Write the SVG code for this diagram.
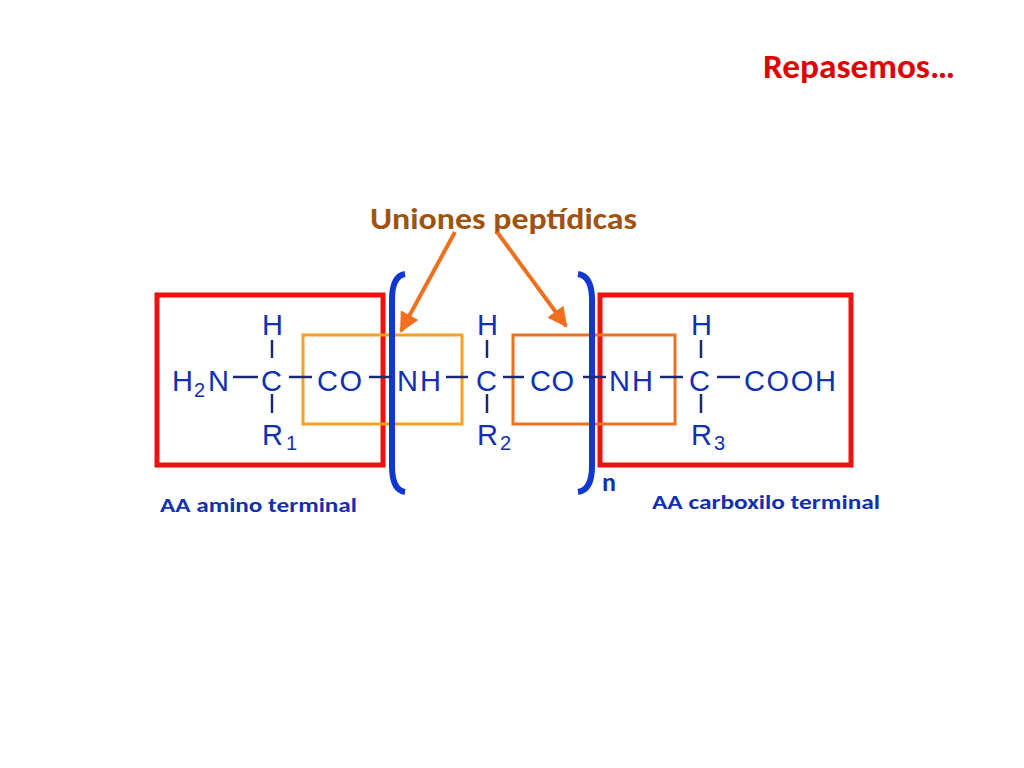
<svg xmlns="http://www.w3.org/2000/svg" width="1024" height="768" viewBox="0 0 1024 768">
<style>
.f{font-family:"Liberation Sans",Arial,sans-serif;fill:#1030B0}
.m{font-size:29px}
.s{font-size:20px}
.b{font-family:Carlito,"Open Sans","Liberation Sans",sans-serif;font-weight:bold}
.bond{stroke:#1a2a70;stroke-width:2.5}
</style>
<defs><marker id="a" viewBox="0 0 10 10" refX="9" refY="5" markerWidth="5" markerHeight="5" orient="auto"><path d="M0,0L10,5L0,10z" fill="#F07020"/></marker></defs>
<rect width="1024" height="768" fill="#fff"/>
<text x="763" y="78" class="b" font-size="34" fill="#E00000" textLength="192" lengthAdjust="spacingAndGlyphs">Repasemos…</text>
<text x="370" y="229" class="b" font-size="30" fill="#A0520E" textLength="267" lengthAdjust="spacingAndGlyphs">Uniones peptídicas</text>
<g id="boxes" fill="none">
<rect x="157" y="295" width="226" height="170" stroke="#EE1111" stroke-width="5"/>
<rect x="600" y="295" width="251" height="170" stroke="#EE1111" stroke-width="5"/>
<rect x="303" y="335" width="159" height="89" stroke="#F5A020" stroke-width="3"/>
<rect x="513" y="335" width="162" height="89" stroke="#F07020" stroke-width="3"/>
<path d="M405,274 Q392,276 392,300 L392,466 Q392,490 405,492" stroke="#1038D0" stroke-width="6"/>
<path d="M578,274 Q592,276 592,300 L592,466 Q592,490 578,492" stroke="#1038D0" stroke-width="6"/>
</g>
<g id="connectors" stroke="#F07020" stroke-width="4" fill="none">
<line x1="455" y1="232" x2="401" y2="331" marker-end="url(#a)"/>
<line x1="497" y1="232" x2="566" y2="326" marker-end="url(#a)"/>
</g>
<g id="bonds" class="bond">
<line x1="272" y1="340" x2="272" y2="358"/><line x1="272" y1="394" x2="272" y2="413"/>
<line x1="487" y1="340" x2="487" y2="358"/><line x1="487" y1="394" x2="487" y2="413"/>
<line x1="701" y1="340" x2="701" y2="358"/><line x1="701" y1="394" x2="701" y2="413"/>
<line x1="233" y1="377" x2="258" y2="377"/><line x1="289" y1="377" x2="312" y2="377"/>
<line x1="369" y1="377" x2="392" y2="377"/><line x1="446" y1="377" x2="468" y2="377"/>
<line x1="503" y1="377" x2="524" y2="377"/><line x1="583" y1="377" x2="606" y2="377"/>
<line x1="660" y1="377" x2="683" y2="377"/><line x1="717" y1="377" x2="740" y2="377"/>
</g>
<g id="text" class="f">
<text x="262" y="335" class="m">H</text><text x="477" y="335" class="m">H</text><text x="691" y="335" class="m">H</text>
<text x="172" y="391" class="m">H</text><text x="194" y="397" class="s">2</text><text x="208" y="391" class="m">N</text>
<text x="261" y="391" class="m">C</text><text x="317" y="391" class="m" textLength="45">C O</text><text x="397" y="391" class="m" textLength="44">N H</text>
<text x="476" y="391" class="m">C</text><text x="530" y="391" class="m" textLength="44">C O</text><text x="609" y="391" class="m" textLength="44">N H</text>
<text x="689" y="391" class="m">C</text><text x="744" y="391" class="m" textLength="92">C O O H</text>
<text x="262" y="445" class="m">R</text><text x="286" y="450" class="s">1</text>
<text x="477" y="445" class="m">R</text><text x="500" y="450" class="s">2</text>
<text x="691" y="445" class="m">R</text><text x="714" y="450" class="s">3</text>
</g>
<text x="602" y="491" class="b" font-size="26" fill="#1030B0">n</text>
<text x="160" y="512" class="b" font-size="21" fill="#1030B0" textLength="197" lengthAdjust="spacingAndGlyphs">AA amino terminal</text>
<text x="652" y="509" class="b" font-size="21" fill="#1030B0" textLength="228" lengthAdjust="spacingAndGlyphs">AA carboxilo terminal</text>
</svg>
